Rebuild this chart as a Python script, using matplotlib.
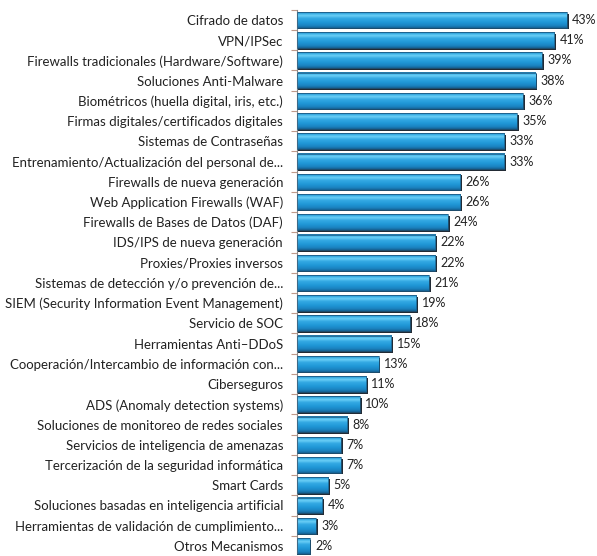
import numpy as np
import matplotlib.pyplot as plt
import matplotlib
from matplotlib.colors import LinearSegmentedColormap

matplotlib.rc('font', family=['Lato', 'DejaVu Sans'], size=9.5)

categorias = [
    'Cifrado de datos',
    'VPN/IPSec',
    'Firewalls tradicionales (Hardware/Software)',
    'Soluciones Anti-Malware',
    'Biométricos (huella digital, iris, etc.)',
    'Firmas digitales/certificados digitales',
    'Sistemas de Contraseñas',
    'Entrenamiento/Actualización del personal de...',
    'Firewalls de nueva generación',
    'Web Application Firewalls (WAF)',
    'Firewalls de Bases de Datos (DAF)',
    'IDS/IPS de nueva generación',
    'Proxies/Proxies inversos',
    'Sistemas de detección y/o prevención de...',
    'SIEM (Security Information Event Management)',
    'Servicio de SOC',
    'Herramientas Anti\u2013DDoS',
    'Cooperación/Intercambio de información con...',
    'Ciberseguros',
    'ADS (Anomaly detection systems)',
    'Soluciones de monitoreo de redes sociales',
    'Servicios de inteligencia de amenazas',
    'Tercerización de la seguridad informática',
    'Smart Cards',
    'Soluciones basadas en inteligencia artificial',
    'Herramientas de validación de cumplimiento...',
    'Otros Mecanismos',
]
valores = [43, 41, 39, 38, 36, 35, 33, 33, 26, 26, 24, 22, 22, 21,
           19, 18, 15, 13, 11, 10, 8, 7, 7, 5, 4, 3, 2]

fig = plt.figure(figsize=(5.97, 5.56), dpi=100)
ax = fig.add_axes([0.4975, 0.0, 0.49, 1.0])

y = np.arange(len(categorias))
v = np.array(valores, dtype=float)
h = 0.78

# degradado vertical tipo "cilindro"
cmap = LinearSegmentedColormap.from_list('barra', [
    (0.0, '#1d5f8c'), (0.08, '#36aee6'), (0.22, '#6ccff6'),
    (0.38, '#35aae4'), (0.65, '#1f97d6'), (0.88, '#1a80bd'),
    (1.0, '#165f8f')])
grad = np.linspace(0, 1, 64).reshape(-1, 1)

# sombra
ax.barh(y + 0.08, v + 0.3, height=h, left=0, color='#222b35', zorder=1)
for yi, vi in zip(y, v):
    ax.imshow(grad, cmap=cmap, aspect='auto', zorder=2,
              extent=[0, vi, yi + h / 2, yi - h / 2], interpolation='bilinear')
ax.barh(y, v, height=h, left=0, fill=False, edgecolor='#1b5c86',
        linewidth=0.5, zorder=3)

for yi, vi in zip(y, valores):
    ax.annotate('%d%%' % vi, (vi + 0.3, yi), xytext=(2.5, 0),
                textcoords='offset points', va='center', ha='left',
                color='#222222', fontsize=9)

ax.set_xlim(0, 46.6)
ax.set_ylim(26.34, -0.983)
ax.set_yticks(y)
ax.set_yticklabels(categorias, color='#222222')
ax.tick_params(axis='y', which='major', length=0, pad=10)
ax.set_yticks(np.arange(-0.5, len(categorias), 1), minor=True)
ax.tick_params(axis='y', which='minor', length=4, color='#c09a8a', width=0.8)
ax.set_xticks([])
for s in ['top', 'right', 'bottom']:
    ax.spines[s].set_visible(False)
ax.spines['left'].set_color('#8a8a8a')
ax.spines['left'].set_linewidth(0.8)
ax.spines['left'].set_bounds(-0.5, 26.34)

plt.savefig('out.png', dpi=100)
